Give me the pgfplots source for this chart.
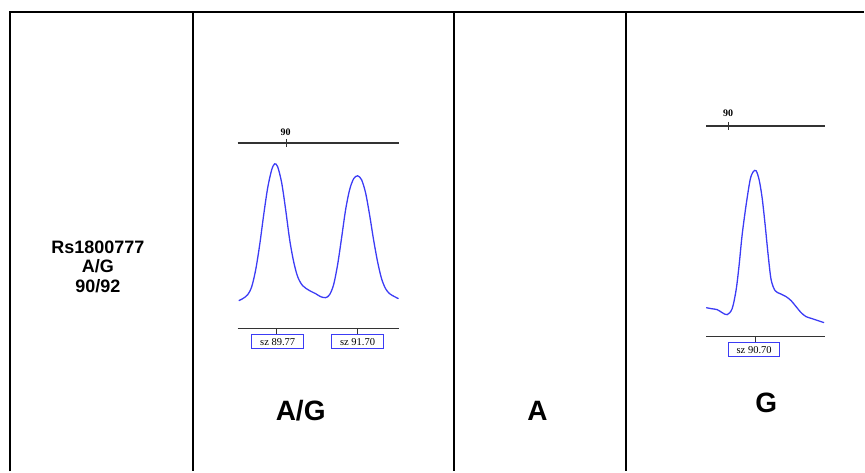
\documentclass[border=0pt]{standalone}
\usepackage{pgfplots}
\pgfplotsset{compat=1.18}
\usepackage{fontspec}
\setmainfont{Liberation Sans}
\newfontfamily\serifsm{Liberation Serif}
\definecolor{peak}{RGB}{60,60,245}
\begin{document}
\begin{tikzpicture}
\begin{axis}[width=865pt,height=472pt,scale only axis,hide axis,
  xmin=0,xmax=865,ymin=0,ymax=472,y dir=reverse,clip=false]
% invisible frame for the page size
\addplot[draw=none] coordinates {(0,0)(865,472)};
% table grid
\addplot[black,line width=2pt] coordinates {(10,472)(10,12)(865,12)};
\addplot[black,line width=2pt] coordinates {(193,12)(193,472)};
\addplot[black,line width=2pt] coordinates {(455,12)(455,472)};
\addplot[black,line width=2pt] coordinates {(627,12)(627,472)};
% panel A/G rulers
\addplot[black!80,line width=1.5pt] coordinates {(238,143)(399,143)};
\addplot[black!80,line width=1.2pt] coordinates {(287,139)(287,147)};
\addplot[black!80,line width=1.5pt] coordinates {(238,329)(399,329)};
\addplot[black!80,line width=1.2pt] coordinates {(277,329)(277,335)};
\addplot[black!80,line width=1.2pt] coordinates {(358,329)(358,335)};
\addplot[peak,line width=1.3pt,smooth,tension=0.5] coordinates {
(239,301)(243,299)(248,295)(252,287)(256,270)(260,245)(264,215)(268,188)(272,170)(275,164)(278,167)(282,183)(286,210)(290,240)(294,262)(298,277)(303,286)(310,291)(316,294)(321,297)(326,298)(330,295)(334,285)(338,265)(342,238)(346,210)(350,190)(354,179)(358,176)(362,180)(366,193)(370,215)(374,240)(378,262)(382,279)(386,289)(390,294)(395,297)(399,299)};
\node[font=\serifsm\bfseries\fontsize{10}{12}\selectfont] at (axis cs:286,132) {90};
\node[draw=peak,line width=1.2pt,fill=white,minimum width=52pt,minimum height=14pt,inner sep=0pt,font=\serifsm\fontsize{10.5}{12}\selectfont] at (axis cs:278,342) {sz 89.77};
\node[draw=peak,line width=1.2pt,fill=white,minimum width=52pt,minimum height=14pt,inner sep=0pt,font=\serifsm\fontsize{10.5}{12}\selectfont] at (axis cs:358,342) {sz 91.70};
% panel G rulers
\addplot[black!80,line width=1.5pt] coordinates {(707,126)(826,126)};
\addplot[black!80,line width=1.2pt] coordinates {(729,122)(729,130)};
\addplot[black!80,line width=1.5pt] coordinates {(707,337)(826,337)};
\addplot[black!80,line width=1.2pt] coordinates {(756,337)(756,343)};
\addplot[peak,line width=1.3pt,smooth,tension=0.5] coordinates {
(707,308)(712,309)(718,310)(723,313)(728,315)(733,309)(737,290)(740,265)(743,235)(747,205)(751,180)(754,172)(757,171)(760,180)(763,198)(766,225)(769,255)(772,280)(776,291)(781,294)(787,297)(792,301)(797,307)(802,313)(807,317)(813,319)(819,321)(825,323)};
\node[font=\serifsm\bfseries\fontsize{10}{12}\selectfont] at (axis cs:729,113) {90};
\node[draw=peak,line width=1.2pt,fill=white,minimum width=51pt,minimum height=14pt,inner sep=0pt,font=\serifsm\fontsize{10.5}{12}\selectfont] at (axis cs:755,350) {sz 90.70};
% labels
\node[font=\bfseries\fontsize{18}{19.5}\selectfont,align=center] at (axis cs:98,267) {Rs1800777\\A/G\\90/92};
\node[font=\bfseries\fontsize{28}{30}\selectfont] at (axis cs:301,411) {A/G};
\node[font=\bfseries\fontsize{28}{30}\selectfont] at (axis cs:538,411) {A};
\node[font=\bfseries\fontsize{28}{30}\selectfont] at (axis cs:767,403) {G};
\end{axis}
\end{tikzpicture}
\end{document}
